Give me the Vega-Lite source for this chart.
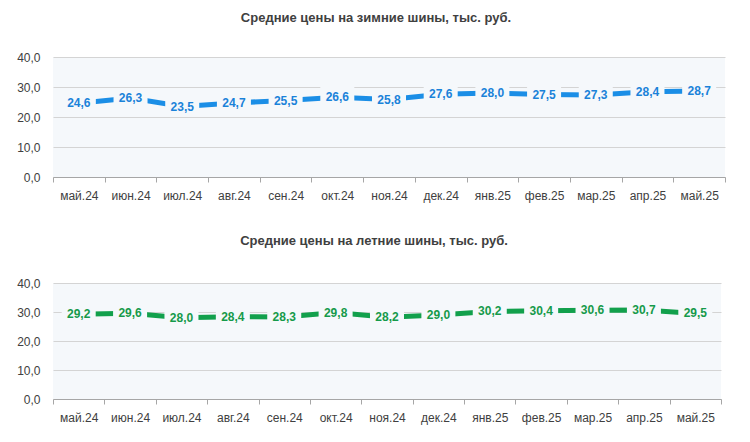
{
  "$schema": "https://vega.github.io/schema/vega-lite/v6.json",
  "description": "Average prices for winter and summer tyres, thousand roubles, May 2024 - May 2025",
  "padding": {"left": 16, "top": 12, "right": 5, "bottom": 5},
  "datasets": {
    "prices": [
      {"month": "май.24", "winter": 24.6, "summer": 29.2},
      {"month": "июн.24", "winter": 26.3, "summer": 29.6},
      {"month": "июл.24", "winter": 23.5, "summer": 28.0},
      {"month": "авг.24", "winter": 24.7, "summer": 28.4},
      {"month": "сен.24", "winter": 25.5, "summer": 28.3},
      {"month": "окт.24", "winter": 26.6, "summer": 29.8},
      {"month": "ноя.24", "winter": 25.8, "summer": 28.2},
      {"month": "дек.24", "winter": 27.6, "summer": 29.0},
      {"month": "янв.25", "winter": 28.0, "summer": 30.2},
      {"month": "фев.25", "winter": 27.5, "summer": 30.4},
      {"month": "мар.25", "winter": 27.3, "summer": 30.6},
      {"month": "апр.25", "winter": 28.4, "summer": 30.7},
      {"month": "май.25", "winter": 28.7, "summer": 29.5}
    ]
  },
  "spacing": 34,
  "vconcat": [
    {
      "width": 672,
      "height": 120,
      "title": {"text": "Средние цены на зимние шины, тыс. руб."},
      "data": {"name": "prices"},
      "encoding": {
        "x": {"field": "month", "type": "ordinal", "sort": null, "scale": {"type": "band", "paddingInner": 0, "paddingOuter": 0}},
        "y": {"field": "winter", "type": "quantitative", "scale": {"domain": [0, 40]}, "axis": {"values": [0, 10, 20, 30, 40], "format": ".1f"}}
      },
      "layer": [
        {"mark": {"type": "line", "color": "#1b8ee6", "strokeWidth": 5}},
        {"mark": {"type": "point", "shape": "M-1,-0.6L1,-0.6L1,0.6L-1,0.6Z", "filled": true, "color": "#f5f8fb", "opacity": 1, "size": 1156}},
        {
          "mark": {"type": "text", "color": "#1a82d9", "fontWeight": "bold", "fontSize": 12, "font": "Liberation Sans"},
          "encoding": {"text": {"field": "winter", "type": "quantitative", "format": ".1f"}}
        }
      ]
    },
    {
      "width": 668,
      "height": 116,
      "title": {"text": "Средние цены на летние шины, тыс. руб.", "offset": 29},
      "data": {"name": "prices"},
      "encoding": {
        "x": {"field": "month", "type": "ordinal", "sort": null, "scale": {"type": "band", "paddingInner": 0, "paddingOuter": 0}},
        "y": {"field": "summer", "type": "quantitative", "scale": {"domain": [0, 40]}, "axis": {"values": [0, 10, 20, 30, 40], "format": ".1f"}}
      },
      "layer": [
        {"mark": {"type": "line", "color": "#12a04c", "strokeWidth": 5}},
        {"mark": {"type": "point", "shape": "M-1,-0.6L1,-0.6L1,0.6L-1,0.6Z", "filled": true, "color": "#f5f8fb", "opacity": 1, "size": 1156}},
        {
          "mark": {"type": "text", "color": "#159a4a", "fontWeight": "bold", "fontSize": 12, "font": "Liberation Sans"},
          "encoding": {"text": {"field": "summer", "type": "quantitative", "format": ".1f"}}
        }
      ]
    }
  ],
  "config": {
    "background": "#ffffff",
    "locale": {"number": {"decimal": ",", "thousands": " ", "grouping": [3], "currency": ["", ""]}},
    "view": {"fill": "#f5f8fb", "stroke": null},
    "title": {"font": "Liberation Sans", "fontSize": 13, "fontWeight": "bold", "color": "#404040", "anchor": "middle", "offset": 26, "dx": -13},
    "axisX": {
      "title": null, "labelAngle": 0, "grid": false, "tickBand": "extent",
      "domainColor": "#a6a6a6", "tickColor": "#a6a6a6", "tickSize": 5,
      "labelFont": "Liberation Sans", "labelFontSize": 12, "labelColor": "#404040", "labelPadding": 8
    },
    "axisY": {
      "title": null, "domain": false, "ticks": false, "gridColor": "#d4d4d4",
      "labelFont": "Liberation Sans", "labelFontSize": 12, "labelColor": "#404040", "labelPadding": 13
    }
  }
}
